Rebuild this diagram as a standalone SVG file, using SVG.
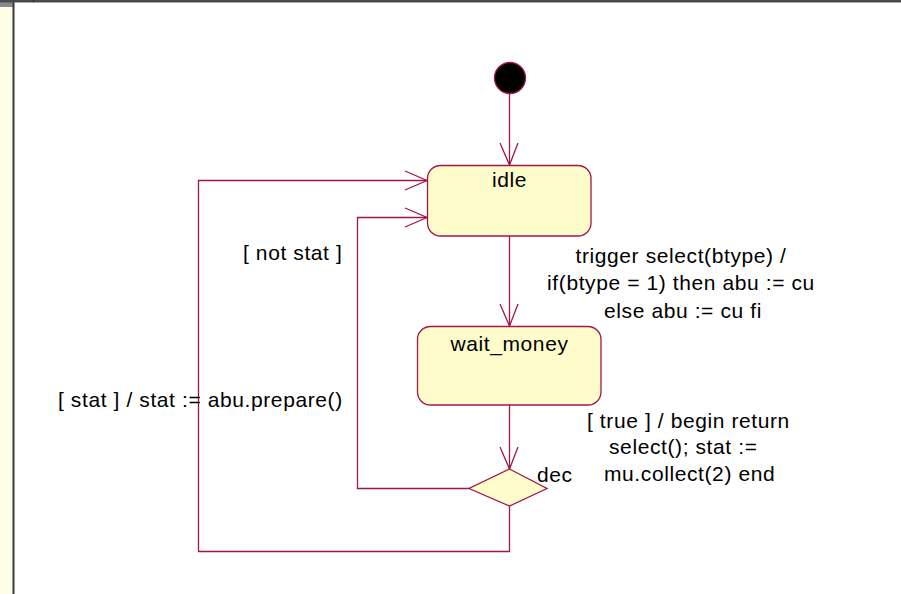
<svg xmlns="http://www.w3.org/2000/svg" width="901" height="594" viewBox="0 0 901 594">
  <style>
    .state { fill: #fffccb; stroke: #a3164a; stroke-width: 1.3; }
    .edge { fill: none; stroke: #a3164a; stroke-width: 1.3; }
    .head { fill: none; stroke: #a3164a; stroke-width: 1.3; }
    text { font-family: "Liberation Sans", Arial, sans-serif; font-size: 21px; fill: #000; letter-spacing: 0.6px; }
  </style>

  <!-- window frame -->
  <rect x="0" y="0" width="901" height="594" fill="#ffffff"/>
  <rect x="0" y="0" width="13" height="594" fill="#fffde6"/>
  <rect x="0" y="0" width="13" height="7" fill="#8a8a8a"/>
  <line x1="13.5" y1="0" x2="13.5" y2="594" stroke="#3a3a3a" stroke-width="2"/>
  <line x1="0" y1="1.2" x2="901" y2="1.2" stroke="#4a4a4a" stroke-width="2.4"/>
  <line x1="33.5" y1="0" x2="33.5" y2="2" stroke="#222" stroke-width="1"/>

  <!-- transitions -->
  <g id="connectors">
    <!-- initial -> idle -->
    <line class="edge" x1="509.5" y1="94" x2="509.5" y2="165"/>
    <polyline class="head" points="500,143 509.5,165 518,143"/>
    <!-- idle -> wait_money -->
    <line class="edge" x1="509.5" y1="236" x2="509.5" y2="326" stroke-width="2"/>
    <polyline class="head" points="500,304 509.5,326 518,304"/>
    <!-- wait_money -> dec -->
    <line class="edge" x1="509.5" y1="405" x2="509.5" y2="469"/>
    <polyline class="head" points="500,447 509.5,469 518,447"/>
    <!-- dec -> idle (not stat) -->
    <polyline class="edge" points="469,488.5 357.5,488.5 357.5,217.5 427,217.5"/>
    <polyline class="head" points="405,208 427,217.5 405,227"/>
    <!-- dec -> idle (stat) -->
    <polyline class="edge" points="509.5,506 509.5,551.5 198.5,551.5 198.5,180.5 427,180.5"/>
    <polyline class="head" points="405,171 427,180.5 405,190"/>
  </g>

  <g id="initial">
    <circle cx="510" cy="78" r="15.5" fill="#000" stroke="#a3164a" stroke-width="1.3"/>
  </g>

  <g id="idle">
    <rect class="state" x="427.5" y="165.5" width="163.5" height="70.5" rx="13"/>
    <text x="509.5" y="187" text-anchor="middle">idle</text>
  </g>

  <g id="wait_money">
    <rect class="state" x="417.5" y="326.5" width="183.5" height="78.5" rx="13"/>
    <text x="509.5" y="351" text-anchor="middle">wait_money</text>
  </g>

  <g id="dec">
    <polygon class="state" points="509.5,469 547,488.5 509.5,506 469,488.5"/>
    <text x="537" y="482">dec</text>
  </g>

  <!-- transition labels -->
  <g id="labels">
    <text x="243" y="260">[ not stat ]</text>
    <text x="58" y="407">[ stat ] / stat := abu.prepare()</text>
    <text x="681" y="263" text-anchor="middle">trigger select(btype) /</text>
    <text x="681" y="290" text-anchor="middle">if(btype = 1) then abu := cu</text>
    <text x="683" y="318" text-anchor="middle">else abu := cu fi</text>
    <text x="587" y="428">[ true ] / begin return</text>
    <text x="609" y="454">select(); stat :=</text>
    <text x="604" y="481">mu.collect(2) end</text>
  </g>
</svg>
